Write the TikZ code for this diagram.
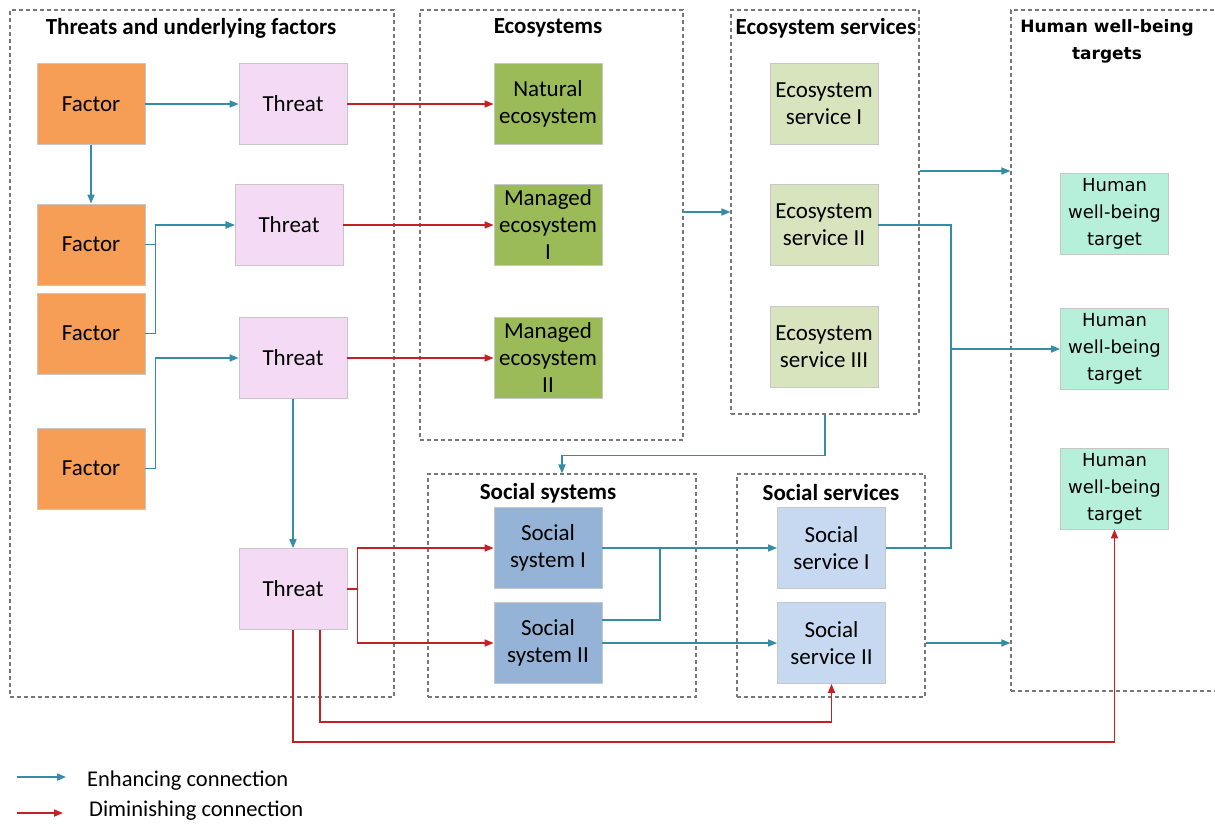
\documentclass[tikz,border=0pt]{standalone}
\usepackage{fontspec}
\setmainfont{Carlito}
\newfontfamily\verd{DejaVu Sans}
\usetikzlibrary{arrows.meta}
\definecolor{cfac}{RGB}{246,157,86}
\definecolor{cthr}{RGB}{244,218,244}
\definecolor{ceco}{RGB}{155,187,89}
\definecolor{cesv}{RGB}{215,228,189}
\definecolor{chum}{RGB}{182,240,218}
\definecolor{csoc}{RGB}{149,179,215}
\definecolor{cssv}{RGB}{198,217,241}
\definecolor{cblue}{RGB}{52,140,165}
\definecolor{cred}{RGB}{196,32,38}
\definecolor{cdash}{RGB}{120,120,120}
\tikzset{
  nbox/.style={draw=black!22, line width=0.8pt, minimum width=108pt, minimum height=81pt, inner sep=0pt, align=center, font=\fontsize{23}{27}\selectfont},
  grp/.style={draw=cdash, dash pattern=on 4pt off 3pt, line width=1.1pt, inner sep=0pt},
  hdr/.style={font=\fontsize{23}{26}\selectfont\bfseries, align=center, inner sep=0pt},
  enh/.style={draw=cblue, line width=1.6pt, -{Triangle[length=9pt,width=7pt]}},
  enhn/.style={draw=cblue, line width=1.6pt},
  dim/.style={draw=cred, line width=1.6pt, -{Triangle[length=9pt,width=7pt]}},
  dimn/.style={draw=cred, line width=1.6pt},
  hum/.style={nbox, fill=chum, font=\verd\fontsize{18}{27}\selectfont}
}
\begin{document}
\begin{tikzpicture}[x=1pt,y=-1pt]
\useasboundingbox (0,0) rectangle (1215,824);
% group boxes
\node[grp, minimum width=384pt, minimum height=687pt] (TG) at (202,353.5) {};
\node[grp, minimum width=263pt, minimum height=430pt] (EG) at (551.5,225) {};
\node[grp, minimum width=188pt, minimum height=404pt] (ESG) at (825,212) {};
\node[grp, minimum width=268pt, minimum height=223pt] (SG) at (562,585.5) {};
\node[grp, minimum width=188pt, minimum height=223pt] (SSG) at (831,585.5) {};
\node[grp, minimum width=230pt, minimum height=681pt] (HG) at (1126,350.5) {};
% headers
\node[hdr] (hT) at (191,28) {Threats and underlying factors};
\node[hdr] (hE) at (548,28) {Ecosystems};
\node[hdr] (hES) at (826,28) {Ecosystem services};
\node[hdr, font=\verd\fontsize{17}{27}\selectfont\bfseries] (hH) at (1107,41) {Human well-being\\targets};
\node[hdr] (hS) at (548,493) {Social systems};
\node[hdr] (hSS) at (831,493) {Social services};
% factors
\node[nbox, fill=cfac] (F1) at (91,104) {Factor};
\node[nbox, fill=cfac] (F2) at (91,244.5) {Factor};
\node[nbox, fill=cfac] (F3) at (91,333.5) {Factor};
\node[nbox, fill=cfac] (F4) at (91,468.5) {Factor};
% threats
\node[nbox, fill=cthr] (T1) at (293,104) {Threat};
\node[nbox, fill=cthr] (T2) at (289,225) {Threat};
\node[nbox, fill=cthr] (T3) at (293,358) {Threat};
\node[nbox, fill=cthr] (T4) at (293,589) {Threat};
% ecosystems
\node[nbox, fill=ceco] (E1) at (548,104) {Natural\\ecosystem};
\node[nbox, fill=ceco] (E2) at (548,225) {Managed\\ecosystem\\I};
\node[nbox, fill=ceco] (E3) at (548,358) {Managed\\ecosystem\\II};
% ecosystem services
\node[nbox, fill=cesv] (ES1) at (824,104) {Ecosystem\\service I};
\node[nbox, fill=cesv] (ES2) at (824,225) {Ecosystem\\service II};
\node[nbox, fill=cesv] (ES3) at (824,346.5) {Ecosystem\\service III};
% human targets
\node[hum] (H1) at (1114.5,214) {Human\\well-being\\target};
\node[hum] (H2) at (1114.5,349) {Human\\well-being\\target};
\node[hum] (H3) at (1114.5,488.5) {Human\\well-being\\target};
% social systems
\node[nbox, fill=csoc] (S1) at (548,548) {Social\\system I};
\node[nbox, fill=csoc] (S2) at (548,643) {Social\\system II};
% social services
\node[nbox, fill=cssv] (SS1) at (831.5,548) {Social\\service I};
\node[nbox, fill=cssv] (SS2) at (831.5,643) {Social\\service II};
% junction coordinates
\coordinate (jx) at (951,0);
\coordinate (jy) at (660,548);
\coordinate (yes) at (0,171);
\coordinate (ybot1) at (0,722);
\coordinate (ybot2) at (0,742);
% enhancing connections
\draw[enh] (F1) -- (T1);
\draw[enh] (F1) -- (F2);
\draw[enh] (F2.east) -- ++(10,0) |- (T2.west);
\draw[enh] (F3.east) -- ++(10,0) |- (T2.west);
\draw[enh] (F4.east) -- ++(10,0) |- (T3.west);
\draw[enh] (T3) -- (T4);
\draw[enh] (ESG.west -| EG.east) -- (ESG.west);
\draw[enh] (ESG.east |- yes) -- (HG.west |- yes);
\draw[enhn] (ES2.east) -| (jx |- SS1.east) -- (SS1.east);
\draw[enh] (jx |- H2.west) -- (H2.west);
\draw[enh] (ESG.south) -- ++(0,41) -| (SG.north);
\draw[enh] (S1) -- (SS1);
\draw[enhn] ([yshift=23pt]S2.east) -| (jy);
\draw[enh] (S2) -- (SS2);
\draw[enh] (SSG.east |- SS2.east) -- (HG.west |- SS2.east);
% diminishing connections
\draw[dim] (T1) -- (E1);
\draw[dim] (T2) -- (E2);
\draw[dim] (T3) -- (E3);
\draw[dim] (T4.east) -- ++(10,0) |- (S1.west);
\draw[dim] (T4.east) -- ++(10,0) |- (S2.west);
\draw[dim] ([xshift=27pt]T4.south) -- ([xshift=27pt]T4.south |- ybot1) -| (SS2.south);
\draw[dim] (T4.south) -- (T4.south |- ybot2) -| (H3.south);
% legend
\coordinate (la1) at (17,777);
\coordinate (lb1) at (66,777);
\coordinate (la2) at (17,813);
\coordinate (lb2) at (63,813);
\draw[enh] (la1) -- (lb1);
\draw[dim] (la2) -- (lb2);
\node[anchor=west, inner sep=0pt, font=\fontsize{22.5}{26}\selectfont] (lt1) at (87,781) {Enhancing connection};
\node[anchor=west, inner sep=0pt, font=\fontsize{22.5}{26}\selectfont] (lt2) at (89,811) {Diminishing connection};
\end{tikzpicture}
\end{document}
